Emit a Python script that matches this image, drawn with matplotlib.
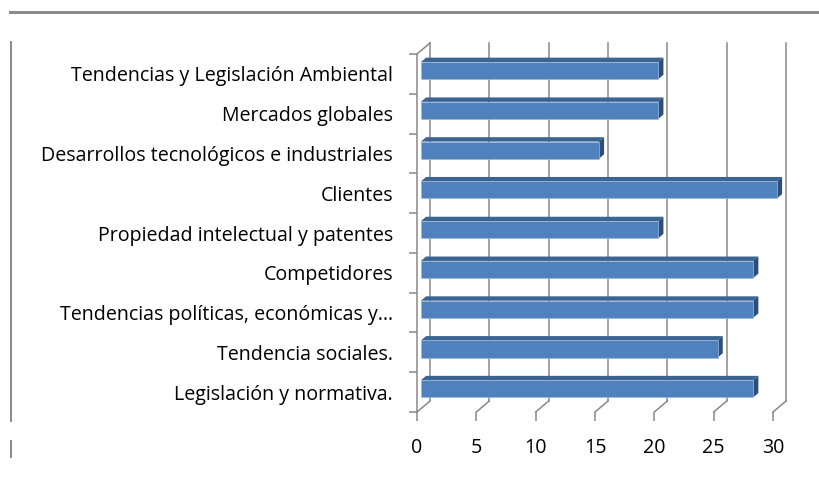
"""3D-style horizontal bar chart (Excel look)."""

import numpy as np
import matplotlib
matplotlib.use("Agg")
import matplotlib.pyplot as plt
from matplotlib.patches import Polygon
from matplotlib.lines import Line2D

categories = [
    "Tendencias y Legislación Ambiental",
    "Mercados globales",
    "Desarrollos tecnológicos e industriales",
    "Clientes",
    "Propiedad intelectual y patentes",
    "Competidores",
    "Tendencias políticas, económicas y…",
    "Tendencia sociales.",
    "Legislación y normativa.",
]
values = [20, 20, 15, 30, 20, 28, 28, 25, 28]
x_ticks = [0, 5, 10, 15, 20, 25, 30]

W, H = 819, 487
GRID = "#878787"
FRONT = "#4F81BD"
TOP = "#3B6492"
SIDE = "#2D4E78"
DEPTH = (13, 11)  # pixel shift of the back wall
PX = 0.72  # one pixel in points at dpi 100
FS = 14.1

plt.rcParams["font.family"] = ["Open Sans", "DejaVu Sans"]

fig = plt.figure(figsize=(W / 100, H / 100), dpi=100)
# front plane of the 3D box, in pixels: x 417..773, y 54..412
ax = fig.add_axes([417 / W, (H - 412) / H, (773 - 417) / W, (412 - 54) / H])
n = len(categories)
ax.set_xlim(x_ticks[0], x_ticks[-1])
ax.set_ylim(n - 0.5, -0.5)

ppx = (773 - 417) / (x_ticks[-1] - x_ticks[0])
ppy = (412 - 54) / n


def off(frac):
    """Depth offset (as fraction of wall depth) in data units."""
    return DEPTH[0] * frac / ppx, -DEPTH[1] * frac / ppy


bx, by = off(1.0)
y_top, y_bot = -0.5, n - 0.5
lw = 1.5 * PX

# back wall gridlines and floor diagonals
for x in x_ticks:
    ax.plot([x + bx, x + bx], [y_top + by, y_bot + by], color=GRID, lw=lw, clip_on=False, zorder=1)
    ax.plot([x, x + bx], [y_bot, y_bot + by], color=GRID, lw=lw, clip_on=False, zorder=1)
ax.plot([0, bx], [y_top, y_top + by], color=GRID, lw=lw, clip_on=False, zorder=1)

# bars: front face at depth 0.3, back at 0.7
fx, fy = off(0.3)
kx, ky = off(0.7)
h = 0.43
for i, v in enumerate(values):
    yt = i - h / 2
    yb = i + h / 2
    ax.add_patch(Polygon([(fx, yt + fy), (fx + v, yt + fy), (kx + v, yt + ky), (kx, yt + ky)],
                         closed=True, color=TOP, lw=0, clip_on=False, zorder=2))
    ax.add_patch(Polygon([(fx + v, yt + fy), (kx + v, yt + ky), (kx + v, yb + ky), (fx + v, yb + fy)],
                         closed=True, color=SIDE, lw=0, clip_on=False, zorder=2))
ax.barh(np.arange(n) + fy, values, height=h, left=fx, color=FRONT,
        edgecolor="#9DB7DA", linewidth=0.5, clip_on=False, zorder=3)

# axes styling
for s in ["top", "right", "bottom"]:
    ax.spines[s].set_visible(False)
ax.spines["left"].set_color(GRID)
ax.spines["left"].set_linewidth(lw)
ax.patch.set_alpha(0)

ax.set_xticks(x_ticks)
ax.set_xticklabels([str(t) for t in x_ticks])
ax.tick_params(axis="x", length=9 * PX, width=lw, color=GRID, pad=17 * PX, labelsize=FS)

ax.set_yticks(np.arange(n + 1) - 0.5)
ax.set_yticklabels([])
ax.tick_params(axis="y", which="major", length=8 * PX, width=lw, color=GRID)
ax.set_yticks(np.arange(n), minor=True)
ax.set_yticklabels(categories, minor=True)
ax.tick_params(axis="y", which="minor", length=0, pad=24 * PX, labelsize=FS)

# chart-area border remnants
fig.add_artist(Line2D([10 / W, 1], [1 - 11.5 / H] * 2, color="#8C8C8C", lw=3 * PX))
fig.add_artist(Line2D([11 / W] * 2, [1 - 42 / H, 1 - 421 / H], color="#8C8C8C", lw=2 * PX))
fig.add_artist(Line2D([11 / W] * 2, [1 - 441 / H, 1 - 457 / H], color="#8C8C8C", lw=2 * PX))

fig.savefig("out.png", dpi=100)
plt.close(fig)
